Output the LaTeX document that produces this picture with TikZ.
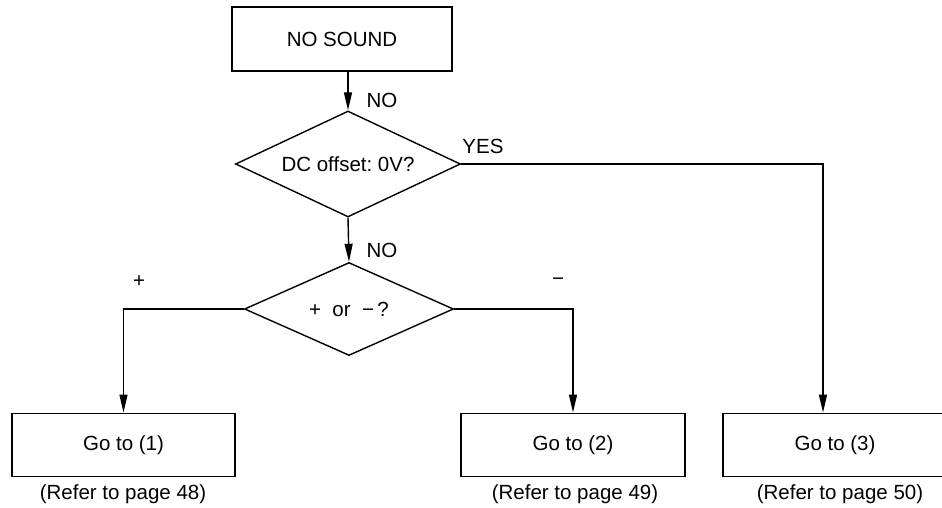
\documentclass[tikz,border=0pt]{standalone}
\usepackage{fontspec}
\setmainfont{Liberation Sans}
\usetikzlibrary{shapes.geometric,arrows.meta}
\begin{document}
\begin{tikzpicture}[x=1pt,y=-1pt,
  every node/.style={font=\fontsize{20.5}{24}\selectfont},
  flowbox/.style={draw,line width=1.4pt,rectangle,inner sep=0pt,minimum height=63.5pt},
  decision/.style={draw,line width=1.4pt,diamond,inner sep=0pt},
  lbl/.style={inner sep=0pt},
  conn/.style={line width=1.4pt},
  arr/.style={conn,-{Triangle[length=18pt,width=8pt]}}]
\useasboundingbox (0,0) rectangle (942,508);
\clip (0,0) rectangle (942,508);
\node[flowbox,minimum width=220pt,minimum height=64pt] (start) at (342,39) {NO SOUND};
\node[decision,shape aspect=2.1,minimum width=225pt,minimum height=106pt] (d1) at (348,164) {DC offset:\ 0V?};
\node[decision,shape aspect=2.2,minimum width=209pt,minimum height=93pt] (d2) at (349,309) {+\ \ or\ \ −\,?};
\node[flowbox,minimum width=223pt] (b1) at (123.5,445) {Go to (1)};
\node[flowbox,minimum width=224pt] (b2) at (573,445) {Go to (2)};
\node[flowbox,minimum width=224pt] (b3) at (835,445) {Go to (3)};
\node[lbl] (r1) at (123,494) {(Refer to page 48)};
\node[lbl] (r2) at (575,494) {(Refer to page 49)};
\node[lbl] (r3) at (840,494) {(Refer to page 50)};
\node[lbl] (no1) at (382,100) {NO};
\node[lbl] (no2) at (382,250) {NO};
\node[lbl] (yes) at (483,146) {YES};
\node[lbl] (plus) at (139,282) {+};
\node[lbl] (minus) at (558,282) {−};
\coordinate (b3in) at ([xshift=-12pt]b3.north);
\draw[arr] (start.south -| d1.north) -- (d1.north);
\draw[arr] (d1.south) -- (d2.north);
\draw[arr] (d1.east) -- (b3in |- d1.east) -- (b3in);
\draw[arr] (d2.west) -- (b1.north |- d2.west) -- (b1.north);
\draw[arr] (d2.east) -- (b2.north |- d2.east) -- (b2.north);
\end{tikzpicture}
\end{document}
